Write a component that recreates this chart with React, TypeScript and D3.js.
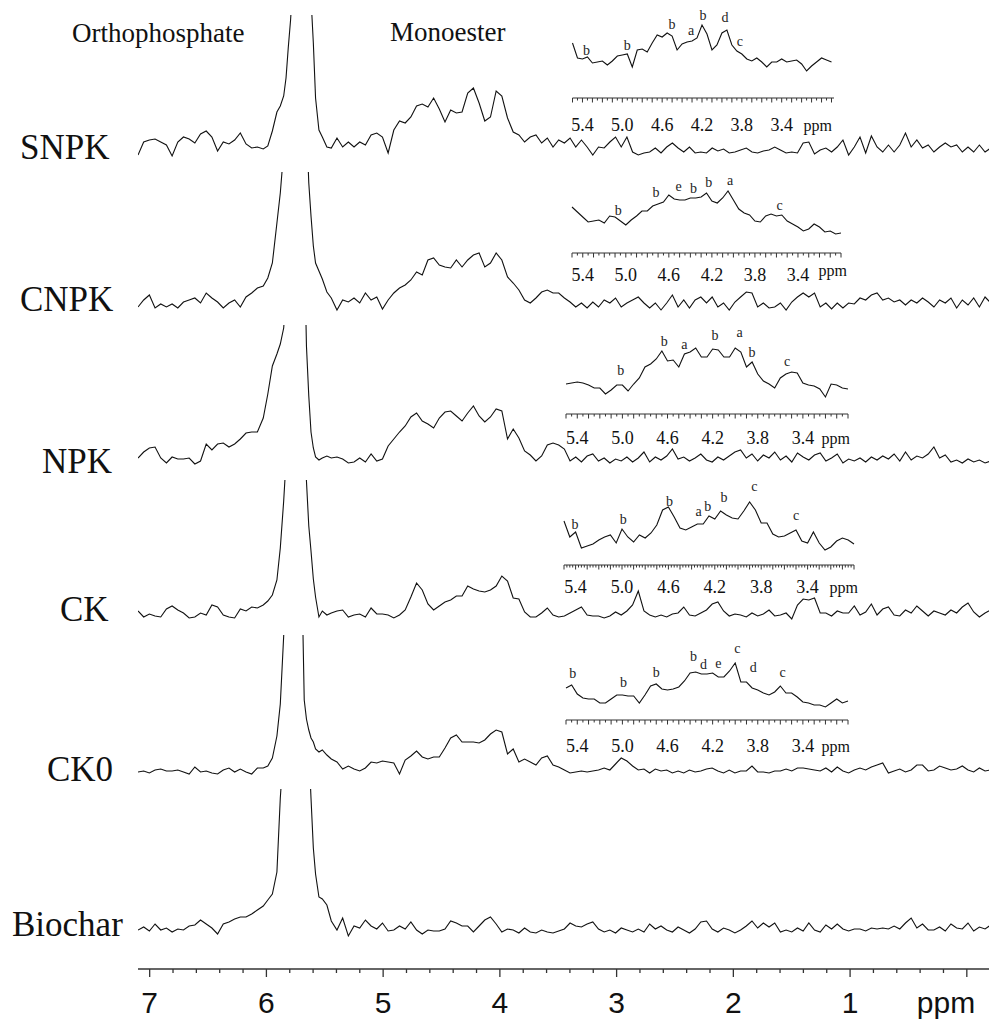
import React from "react";
import * as d3 from "d3";

const W = 989;
const H = 1019;

// main spectra, one value every 0.0487 ppm from 7.10 down to -0.20
const gridStart = 7.1;
const gridStep = 0.0487;

const snpk = [
  3, 16, 18, 19, 16, 13, 2, 16, 21, 19,
  15, 24, 27, 21, 7, 16, 14, 18, 25, 14,
  10, 11, 9, 14, 36, 52, 80, 155, 300, 365,
  220, 85, 25, 13, 10, 20, 11, 16, 11, 16,
  13, 23, 25, 21, 5, 28, 37, 35, 41, 52,
  54, 51, 60, 49, 36, 48, 45, 46, 65, 70,
  55, 37, 41, 67, 62, 40, 26, 23, 16, 21,
  23, 15, 20, 11, 18, 15, 20, 11, 18, 11,
  3, 11, 10, 16, 21, 11, 21, 6, 3, 5,
  6, 10, 5, 11, 15, 10, 6, 11, 5, 6,
  5, 10, 7, 9, 5, 6, 8, 10, 6, 5,
  7, 8, 11, 8, 5, 6, 5, 15, 16, 4,
  8, 10, 6, 11, 18, 3, 11, 21, 5, 22,
  11, 6, 13, 6, 13, 25, 11, 18, 10, 13,
  6, 11, 15, 11, 13, 6, 11, 6, 13, 6,
  10,
];
const cnpk = [
  4, 11, 16, 3, 7, 4, 7, 3, 9, 11,
  13, 8, 18, 13, 9, 3, 8, 11, 4, 14,
  18, 23, 25, 33, 80, 118, 200, 340, 410, 370,
  128, 55, 40, 22, 13, 1, 11, 9, 13, 8,
  18, 11, 14, 2, 11, 18, 23, 26, 31, 39,
  36, 51, 53, 46, 44, 43, 51, 44, 51, 56,
  58, 44, 48, 58, 51, 34, 28, 21, 11, 8,
  13, 19, 21, 18, 18, 13, 9, 4, 8, 3,
  9, 4, 11, 8, 13, 4, 8, 11, 14, 8,
  3, 8, 1, 8, 16, 4, 11, 3, 11, 14,
  8, 14, 4, 8, 1, 9, 14, 19, 18, 4,
  8, 3, 4, 8, 1, 9, 14, 18, 14, 18,
  4, 8, 2, 8, 3, 8, 7, 13, 11, 16,
  18, 11, 13, 9, 11, 6, 11, 8, 13, 9,
  4, 11, 8, 13, 3, 11, 6, 13, 4, 14,
  8,
];
const npk = [
  8, 14, 18, 19, 8, 3, 9, 7, 7, 8,
  2, 5, 22, 16, 22, 23, 19, 22, 27, 33,
  34, 34, 48, 75, 105, 122, 170, 300, 420, 350,
  70, 12, 6, 9, 8, 9, 7, 3, 4, 8,
  4, 12, 5, 7, 20, 27, 34, 40, 49, 53,
  45, 42, 38, 48, 54, 55, 50, 45, 53, 60,
  50, 44, 49, 57, 55, 27, 37, 28, 15, 11,
  5, 10, 21, 23, 21, 17, 5, 9, 4, 10,
  12, 5, 8, 3, 7, 5, 9, 4, 8, 14,
  4, 9, 6, 10, 17, 7, 9, 5, 8, 12,
  6, 4, 9, 6, 10, 14, 16, 8, 12, 5,
  11, 8, 14, 6, 10, 4, 13, 9, 6, 11,
  13, 5, 8, 12, 3, 7, 5, 8, 4, 9,
  6, 10, 7, 12, 5, 14, 6, 10, 8, 12,
  19, 8, 11, 4, 6, 3, 7, 4, 6, 3,
  5,
];
const ck = [
  10, 4, 7, 5, 4, 12, 15, 11, 8, 3,
  4, 8, 6, 16, 14, 6, 4, 3, 12, 10,
  14, 13, 16, 22, 41, 73, 160, 290, 410, 320,
  95, 42, 6, 8, 8, 10, 11, 4, 6, 7,
  4, 13, 7, 7, 6, 3, 6, 11, 24, 38,
  31, 17, 11, 15, 19, 21, 25, 25, 35, 32,
  30, 29, 31, 35, 45, 40, 23, 22, 9, 4,
  4, 8, 13, 6, 4, 5, 8, 11, 14, 6,
  5, 5, 3, 5, 9, 6, 10, 16, 30, 10,
  6, 4, 6, 4, 7, 8, 14, 6, 5, 8,
  11, 17, 19, 10, 5, 7, 6, 4, 8, 5,
  7, 11, 5, 6, 8, 2, 16, 22, 21, 23,
  8, 8, 5, 10, 8, 8, 15, 6, 9, 17,
  6, 12, 14, 6, 5, 11, 8, 15, 10, 5,
  10, 8, 6, 11, 8, 14, 18, 9, 4, 8,
  11,
];
const ck0 = [
  4, 5, 3, 6, 7, 5, 5, 6, 4, 2,
  9, 4, 5, 3, 2, 6, 8, 4, 7, 4,
  2, 8, 8, 12, 40, 72, 200, 360, 400, 200,
  46, 34, 25, 22, 17, 14, 7, 10, 7, 5,
  8, 14, 13, 15, 14, 13, 2, 16, 20, 25,
  19, 17, 19, 19, 28, 38, 41, 34, 34, 34,
  33, 36, 42, 46, 44, 22, 27, 14, 17, 14,
  11, 18, 20, 11, 9, 6, 3, 4, 5, 4,
  5, 6, 8, 6, 12, 18, 15, 10, 6, 7,
  3, 7, 5, 6, 3, 5, 3, 6, 4, 5,
  7, 8, 5, 3, 6, 3, 5, 5, 10, 4,
  4, 3, 5, 5, 7, 5, 8, 8, 7, 6,
  5, 8, 4, 9, 5, 3, 6, 8, 6, 9,
  11, 13, 3, 5, 7, 4, 6, 11, 11, 5,
  6, 10, 8, 6, 7, 10, 6, 4, 8, 5,
  6,
];
const biochar = [
  8, 11, 7, 14, 8, 10, 6, 9, 8, 12,
  13, 18, 14, 10, 4, 14, 16, 19, 21, 21,
  24, 28, 32, 40, 66, 140, 250, 380, 440, 380,
  190, 90, 41, 33, 17, 8, 20, 2, 12, 10,
  18, 12, 9, 15, 7, 8, 12, 9, 16, 8,
  4, 8, 7, 7, 9, 17, 15, 12, 12, 6,
  12, 18, 21, 14, 6, 9, 8, 5, 10, 6,
  5, 8, 6, 5, 7, 9, 15, 12, 11, 14,
  16, 9, 6, 8, 5, 10, 8, 6, 9, 6,
  14, 9, 12, 8, 6, 11, 8, 5, 9, 16,
  17, 9, 6, 10, 8, 5, 8, 12, 17, 10,
  15, 11, 15, 6, 8, 6, 10, 7, 15, 8,
  6, 13, 9, 14, 9, 7, 9, 9, 7, 10,
  9, 10, 9, 12, 9, 15, 20, 10, 14, 8,
  8, 11, 7, 14, 10, 9, 15, 7, 11, 9,
  13,
];

// orthophosphate peak, read more finely (runs off the top of each panel)
const peakPpm = [6.027, 5.988, 5.949, 5.91, 5.881, 5.852, 5.832, 5.813, 5.793, 5.774, 5.754, 5.735, 5.715, 5.696, 5.676, 5.657, 5.637, 5.618, 5.598, 5.579, 5.55, 5.521, 5.482];
const snpkPeak = [9, 12, 27, 46, 52, 62, 80, 110, 138, 175, 230, 300, 360, 380, 350, 290, 220, 160, 115, 60, 28, 21, 11];
const cnpkPeak = [25, 33, 48, 88, 118, 160, 200, 260, 320, 370, 400, 410, 400, 350, 280, 190, 128, 95, 65, 48, 40, 32, 19];
const npkPeak = [48, 72, 100, 112, 122, 138, 170, 220, 290, 350, 400, 420, 410, 350, 230, 120, 70, 34, 18, 9, 6, 8, 10];
const ckPeak = [16, 20, 26, 41, 73, 120, 160, 220, 290, 360, 400, 410, 380, 320, 220, 140, 95, 70, 42, 24, 4, 10, 6];
const ck0Peak = [8, 10, 18, 40, 72, 140, 200, 270, 330, 380, 410, 400, 330, 200, 76, 57, 46, 38, 34, 27, 24, 26, 21];
const biocharPeak = [32, 38, 44, 66, 140, 190, 250, 320, 380, 420, 440, 440, 420, 380, 320, 250, 190, 140, 90, 64, 41, 39, 33];

const axisMajor = [7, 6, 5, 4, 3, 2, 1, 0];
const axisLabels = ["7", "6", "5", "4", "3", "2", "1"];
const insetLabels = ["5.4", "5.0", "4.6", "4.2", "3.8", "3.4"];

// inset spectra, one value every 0.05 ppm from 5.50
const insetStart = 5.5;
const insetStep = 0.05;
const insetSnpk = [
  32, 17, 16, 18, 12, 13, 14, 10, 14, 19,
  20, 21, 8, 25, 26, 23, 32, 40, 38, 42,
  39, 25, 31, 33, 34, 37, 50, 41, 25, 30,
  42, 45, 30, 24, 21, 16, 14, 17, 13, 8,
  13, 13, 16, 13, 14, 15, 11, 4, 9, 13,
  17, 15, 13,
];
const insetCnpk = [
  29, 24, 19, 14, 15, 16, 13, 20, 19, 15,
  11, 16, 20, 25, 25, 30, 32, 34, 41, 37,
  36, 36, 38, 38, 39, 43, 35, 33, 38, 45,
  36, 27, 23, 21, 15, 14, 20, 22, 20, 21,
  15, 12, 9, 5, 7, 12, 9, 4, 5, 2, 3,
];
const insetNpk = [
  13, 14, 15, 14, 12, 9, 9, 3, 7, 12,
  12, 6, 13, 19, 30, 33, 38, 46, 36, 37,
  30, 43, 45, 49, 40, 40, 48, 47, 40, 40,
  49, 45, 30, 35, 23, 16, 13, 9, 19, 23,
  25, 24, 14, 12, 11, 8, 0, 13, 12, 9, 8,
];
const insetCk = [
  30, 14, 19, 3, 5, 7, 11, 14, 16, 8,
  22, 14, 9, 16, 13, 18, 26, 41, 44, 34,
  23, 21, 24, 27, 27, 35, 32, 40, 36, 33,
  32, 40, 49, 41, 28, 28, 17, 14, 15, 18,
  21, 10, 8, 19, 8, 1, 4, 10, 13, 11, 7,
];
const insetCk0 = [
  23, 26, 17, 13, 12, 12, 8, 8, 12, 16,
  16, 15, 15, 8, 16, 25, 27, 22, 21, 22,
  24, 30, 38, 39, 37, 37, 38, 34, 34, 40,
  48, 29, 29, 23, 21, 18, 16, 19, 25, 18,
  18, 14, 9, 8, 6, 6, 4, 8, 12, 8, 10,
];

// peak assignments: letter, ppm, height
const snpkMarks: [string, number, number][] = [["b", 5.36, 20], ["b", 4.95, 25], ["b", 4.5, 46], ["a", 4.31, 40], ["b", 4.19, 55], ["d", 3.97, 53], ["c", 3.82, 29]];
const cnpkMarks: [string, number, number][] = [["b", 5.07, 21], ["b", 4.72, 39], ["e", 4.51, 45], ["b", 4.37, 43], ["b", 4.23, 49], ["a", 4.03, 51], ["c", 3.57, 26]];
const npkMarks: [string, number, number][] = [["b", 5.015, 22], ["b", 4.63, 51], ["a", 4.45, 48], ["b", 4.18, 57], ["a", 3.96, 60], ["b", 3.85, 40], ["c", 3.54, 31]];
const ckMarks: [string, number, number][] = [["b", 5.405, 22], ["b", 4.99, 27], ["b", 4.59, 45], ["a", 4.34, 35], ["b", 4.26, 40], ["b", 4.12, 49], ["c", 3.86, 60], ["c", 3.5, 31]];
const ck0Marks: [string, number, number][] = [["b", 5.44, 33], ["b", 4.99, 24], ["b", 4.7, 34], ["b", 4.37, 50], ["d", 4.28, 42], ["e", 4.15, 43], ["c", 3.98, 58], ["d", 3.84, 39], ["c", 3.58, 34]];

const panels = [
  { name: "SNPK", data: snpk, peak: snpkPeak, base: 158, top: 15, lx: 20, ly: 159 },
  { name: "CNPK", data: cnpk, peak: cnpkPeak, base: 311, top: 172, lx: 20, ly: 311 },
  { name: "NPK", data: npk, peak: npkPeak, base: 466, top: 325, lx: 42, ly: 473 },
  { name: "CK", data: ck, peak: ckPeak, base: 621, top: 480, lx: 60, ly: 621 },
  { name: "CK0", data: ck0, peak: ck0Peak, base: 776, top: 635, lx: 47, ly: 781 },
  { name: "Biochar", data: biochar, peak: biocharPeak, base: 938, top: 789, lx: 12, ly: 936 },
];

const insets = [
  { data: insetSnpk, marks: snpkMarks, x0: 572.5, x1: 834, d1: 2.875, base: 75, axisY: 98, labelY: 131, tick: 0.05, ppmDy: 0, ppmX: -2 },
  { data: insetCnpk, marks: cnpkMarks, x0: 572, x1: 841, d1: 3.0, base: 236, axisY: 253, labelY: 281, tick: 0.05, ppmDy: -5, ppmX: 6 },
  { data: insetNpk, marks: npkMarks, x0: 566, x1: 848, d1: 3.0, base: 397, axisY: 414, labelY: 444, tick: 0.05, ppmDy: 0, ppmX: 2 },
  { data: insetCk, marks: ckMarks, x0: 564, x1: 854, d1: 3.0, base: 551, axisY: 565, labelY: 593, tick: 0.025, ppmDy: 0, ppmX: 4 },
  { data: insetCk0, marks: ck0Marks, x0: 566, x1: 848, d1: 3.0, base: 711, axisY: 720, labelY: 752, tick: 0.05, ppmDy: 0, ppmX: 2 },
];

const serif = "'Liberation Serif', 'Times New Roman', serif";
const sans = "'Liberation Sans', Arial, sans-serif";

const x = d3.scaleLinear().domain([7.1, -0.19]).range([138, 989]);
const axisY = 969;

export default function App() {
  const minorTicks = d3.range(0, 36).map((k) => 7.0 - 0.2 * k);

  return (
    <svg
      width={W}
      height={H}
      viewBox={`0 0 ${W} ${H}`}
      style={{ position: "absolute", left: 0, top: 0, background: "#fff" }}
    >
      <defs>
        {panels.map((p, i) => (
          <clipPath id={`clip${i}`} key={i}>
            <rect x={138} y={p.top} width={851} height={H - p.top} />
          </clipPath>
        ))}
      </defs>

      {/* main spectra */}
      {panels.map((p, i) => {
        const y = d3.scaleLinear().domain([0, 100]).range([p.base, p.base - 100]);
        const pts: [number, number][] = p.data
          .map((v, k) => [gridStart - k * gridStep, v] as [number, number])
          .filter(([q]) => q > 6.05 || q < 5.46);
        p.peak.forEach((v, k) => pts.push([peakPpm[k], v]));
        pts.sort((a, b) => b[0] - a[0]);
        const line = d3
          .line<[number, number]>()
          .x((d) => x(d[0]))
          .y((d) => y(d[1]));
        return (
          <g key={p.name}>
            <path d={line(pts) || ""} fill="none" stroke="#111" strokeWidth={1.1} clipPath={`url(#clip${i})`} />
            <text x={p.lx} y={p.ly} fontFamily={serif} fontSize={35} fill="#111">
              {p.name}
            </text>
          </g>
        );
      })}

      {/* insets */}
      {insets.map((s, i) => {
        const xi = d3.scaleLinear().domain([insetStart, s.d1]).range([s.x0, s.x1]);
        const yi = d3.scaleLinear().domain([0, 50]).range([s.base, s.base - 50]);
        const pts = s.data.map((v, k) => [insetStart - k * insetStep, v] as [number, number]);
        const line = d3
          .line<[number, number]>()
          .x((d) => xi(d[0]))
          .y((d) => yi(d[1]));
        const nTicks = Math.floor((insetStart - s.d1) / s.tick + 1e-6);
        const ticks = d3.range(0, nTicks + 1).map((k) => insetStart - k * s.tick);
        return (
          <g key={`inset${i}`}>
            <path d={line(pts) || ""} fill="none" stroke="#111" strokeWidth={1.1} />
            <line x1={s.x0} x2={s.x1} y1={s.axisY} y2={s.axisY} stroke="#333" strokeWidth={1.2} />
            {ticks.map((t, k) => {
              const major = Math.abs(t * 10 - Math.round(t * 10)) < 1e-6;
              return (
                <line
                  key={k}
                  x1={xi(t)}
                  x2={xi(t)}
                  y1={s.axisY}
                  y2={s.axisY + (major ? 4.5 : 2.5)}
                  stroke="#333"
                  strokeWidth={1}
                />
              );
            })}
            {insetLabels.map((l) => (
              <text key={l} x={xi(+l)} y={s.labelY} textAnchor="middle" fontFamily={serif} fontSize={18} fill="#111">
                {l}
              </text>
            ))}
            <text x={s.x1 + s.ppmX} y={s.labelY + s.ppmDy} textAnchor="end" fontFamily={serif} fontSize={16} fill="#111">
              ppm
            </text>
            <g opacity={0.99}>
              {s.marks.map(([m, q, v], k) => (
                <text key={k} x={xi(q)} y={yi(v)} textAnchor="middle" fontFamily={serif} fontSize={14} fill="#222">
                  {m}
                </text>
              ))}
            </g>
          </g>
        );
      })}

      {/* region titles */}
      <text x={72} y={42} fontFamily={serif} fontSize={27} fill="#111">
        Orthophosphate
      </text>
      <text x={390} y={41} fontFamily={serif} fontSize={27} fill="#111">
        Monoester
      </text>

      {/* ppm axis */}
      <line x1={138} x2={989} y1={axisY} y2={axisY} stroke="#333" strokeWidth={1.5} />
      {minorTicks.map((t, k) => {
        const major = axisMajor.some((m) => Math.abs(m - t) < 1e-6);
        return (
          <line
            key={k}
            x1={x(t)}
            x2={x(t)}
            y1={axisY}
            y2={axisY + (major ? 8 : 4)}
            stroke="#333"
            strokeWidth={1.3}
          />
        );
      })}
      {axisLabels.map((l) => (
        <text key={l} x={x(+l)} y={1013} textAnchor="middle" fontFamily={sans} fontSize={30} fill="#111">
          {l}
        </text>
      ))}
      <text x={946} y={1013} textAnchor="middle" fontFamily={sans} fontSize={30} fill="#111">
        ppm
      </text>
    </svg>
  );
}
